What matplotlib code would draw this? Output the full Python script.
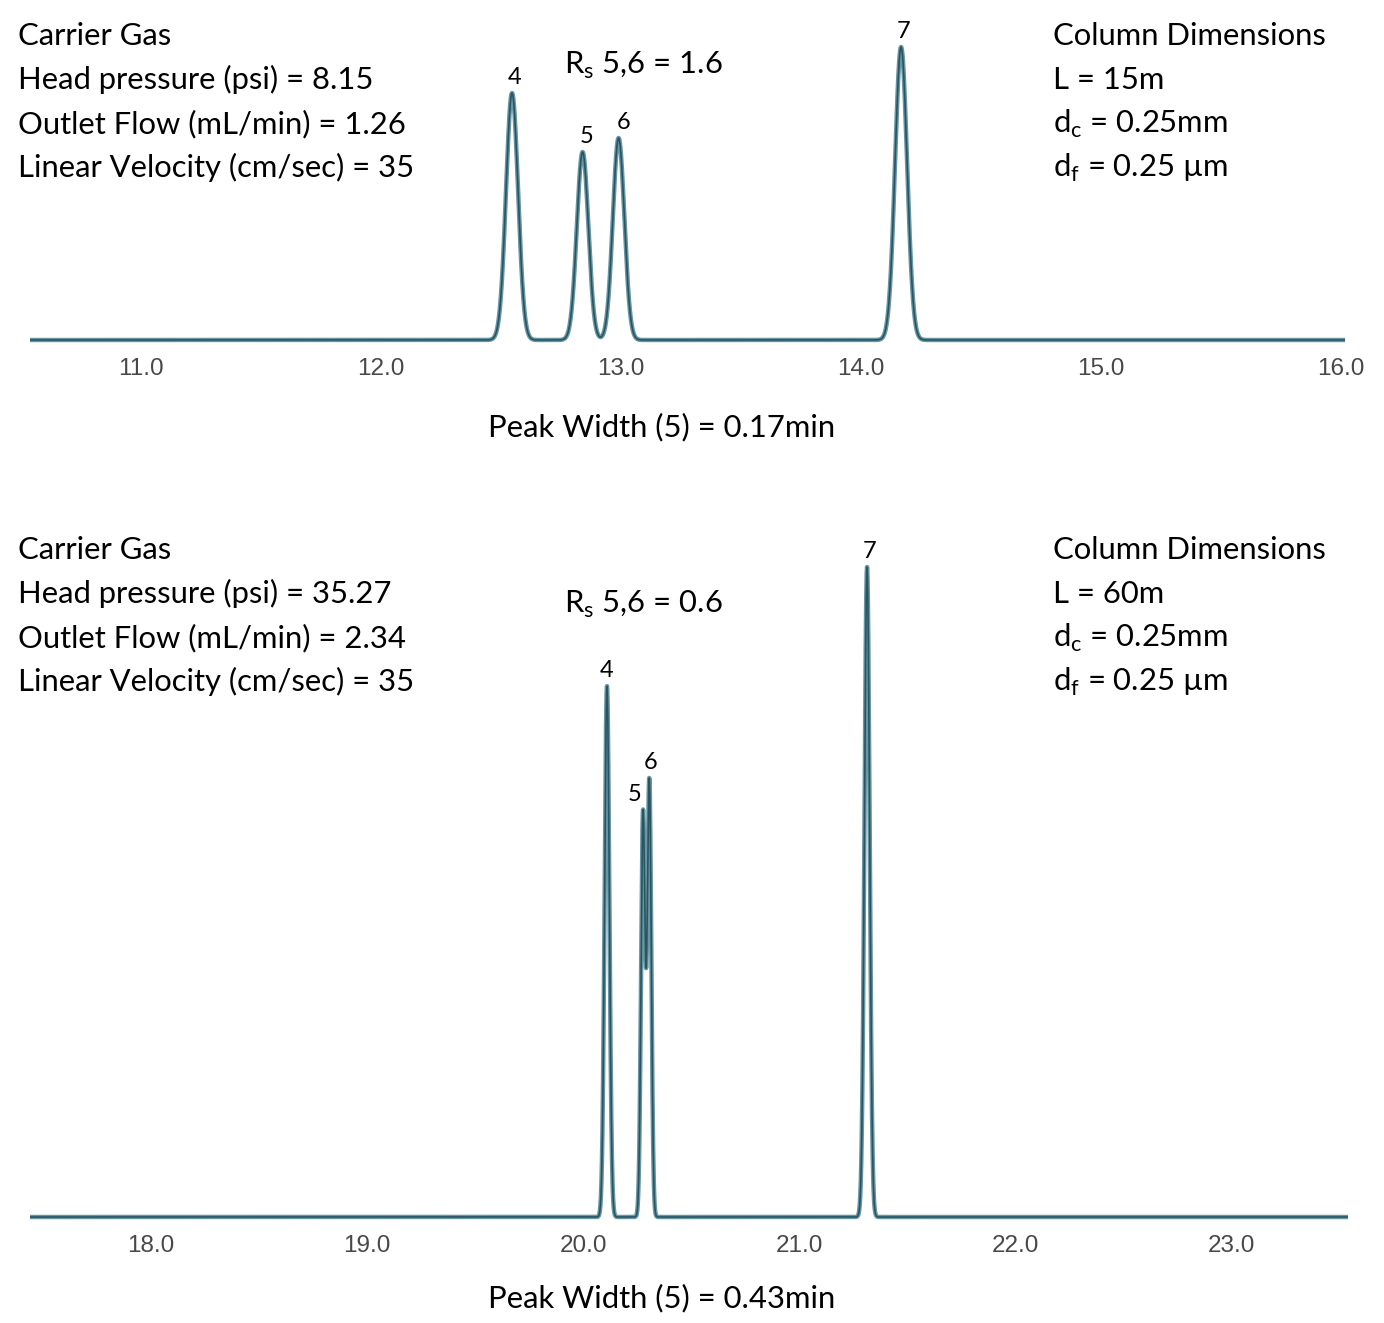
import numpy as np
import matplotlib.pyplot as plt

# peak data: retention time (min), apex height (arbitrary units), width sigma (min)
peak_ids = ["4", "5", "6", "7"]

top_rt = [12.546, 12.840, 12.990, 14.167]
top_height = [247, 188, 202, 293]
top_sigma = [0.025, 0.024, 0.024, 0.025]
top_ticks = [11.0, 12.0, 13.0, 14.0, 15.0, 16.0]

bot_rt = [20.111, 20.278, 20.307, 21.315]
bot_height = [531, 404, 436, 650]
bot_sigma = [0.011, 0.0093, 0.0093, 0.012]
bot_ticks = [18.0, 19.0, 20.0, 21.0, 22.0, 23.0]

top_left = ["Carrier Gas", "Head pressure (psi) = 8.15",
            "Outlet Flow (mL/min) = 1.26", "Linear Velocity (cm/sec) = 35"]
top_right = ["Column Dimensions", "L = 15m",
             r"d$_\mathregular{c}$ = 0.25mm", r"d$_\mathregular{f}$ = 0.25 µm"]
bot_left = ["Carrier Gas", "Head pressure (psi) = 35.27",
            "Outlet Flow (mL/min) = 2.34", "Linear Velocity (cm/sec) = 35"]
bot_right = ["Column Dimensions", "L = 60m",
             r"d$_\mathregular{c}$ = 0.25mm", r"d$_\mathregular{f}$ = 0.25 µm"]
top_rs = r"R$_\mathregular{s}$ 5,6 = 1.6"
bot_rs = r"R$_\mathregular{s}$ 5,6 = 0.6"
top_pw = "Peak Width (5) = 0.17min"
bot_pw = "Peak Width (5) = 0.43min"

W, H = 1384, 1323
FONT = "Lato"
TXT = 22.3

fig = plt.figure(figsize=(W / 100, H / 100), dpi=100)


def rect(x0, y0, x1, y1):
    # pixel box -> figure fraction [left, bottom, width, height]
    return [x0 / W, 1 - y1 / H, (x1 - x0) / W, (y1 - y0) / H]


def ftext(x, y, s, **kw):
    fig.text(x / W, 1 - y / H, s, family=FONT, **kw)


def chromatogram(ax, rt, height, sigma, xlim, ylim, ticks, label_dx):
    t = np.linspace(xlim[0], xlim[1], 8000)
    sig = np.zeros_like(t)
    for r, h, s in zip(rt, height, sigma):
        sig += h * np.exp(-0.5 * ((t - r) / s) ** 2)
    ax.plot(t, sig, color="#6797a4", lw=3.2, solid_capstyle="round")
    ax.plot(t, sig, color="#2a5461", lw=1.2)
    ax.set_xlim(xlim)
    ax.set_ylim(ylim)
    ax.set_xticks(ticks)
    ax.set_xticklabels([f"{v:.1f}" for v in ticks], family="Liberation Sans")
    ax.set_yticks([])
    ax.tick_params(axis="x", length=0, pad=9.5, labelsize=17.5, labelcolor="#484848")
    for s in ax.spines.values():
        s.set_visible(False)
    for i, lab in enumerate(peak_ids):
        top = np.interp(rt[i], t, sig)
        ax.annotate(lab, (rt[i], top), xytext=(label_dx.get(lab, 1.5), 3.5),
                    textcoords="offset points", ha="center", va="bottom",
                    fontsize=17, family=FONT, annotation_clip=False)


# top panel: 240 px per minute, baseline at y=340 px
ax1 = fig.add_axes(rect(30, 20, 1345, 345))
chromatogram(ax1, top_rt, top_height, top_sigma,
             (11.0 + (30 - 141) / 240, 11.0 + (1345 - 141) / 240), (-5, 320),
             top_ticks, {"5": 3, "6": 3.5})

# bottom panel: 216 px per minute, baseline at y=1217 px
ax2 = fig.add_axes(rect(30, 540, 1348, 1222))
chromatogram(ax2, bot_rt, bot_height, bot_sigma,
             (18.0 + (30 - 151) / 216, 18.0 + (1348 - 151) / 216), (-5, 677),
             bot_ticks, {"5": -6, "4": -0.5, "6": 1})

for lines, x, y0 in [(top_left, 18, 45), (top_right, 1053, 45),
                     (bot_left, 18, 559), (bot_right, 1053, 559)]:
    for k, s in enumerate(lines):
        ftext(x, y0 + 44 * k, s, fontsize=TXT, va="baseline")

ftext(643, 74, top_rs, fontsize=TXT, ha="center", va="baseline")
ftext(643, 613, bot_rs, fontsize=TXT, ha="center", va="baseline")
ftext(662, 436, top_pw, fontsize=TXT, ha="center", va="baseline")
ftext(662, 1307, bot_pw, fontsize=TXT, ha="center", va="baseline")

fig.savefig("out.png", dpi=100, facecolor="white")
